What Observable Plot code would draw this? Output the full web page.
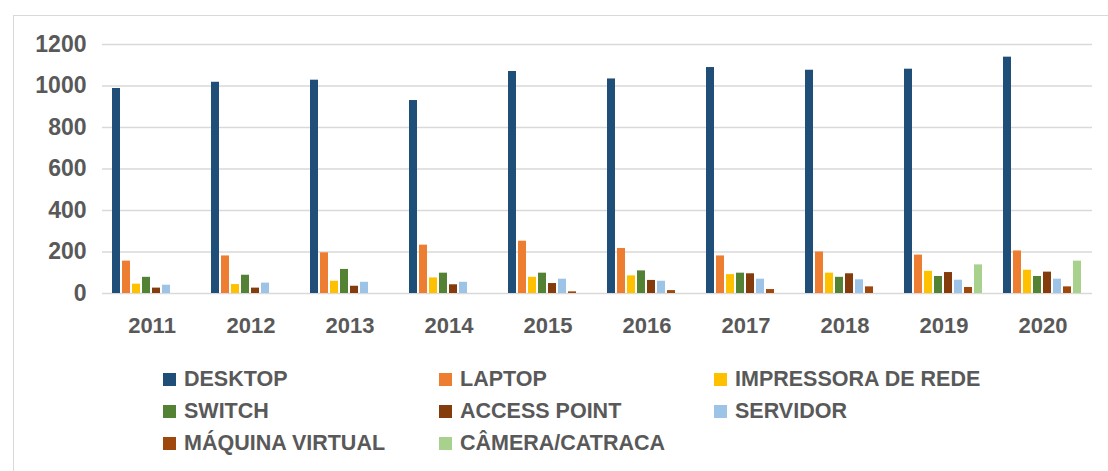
<!DOCTYPE html>
<html>
<head>
<meta charset="utf-8">
<script src="https://cdn.jsdelivr.net/npm/d3@7"></script>
<script src="https://cdn.jsdelivr.net/npm/@observablehq/plot@0.6"></script>
<style>
  body { margin: 0; background: #fff; }
  #wrap { position: relative; width: 1108px; height: 471px; overflow: hidden; font-family: "Liberation Sans", Arial, sans-serif; }
  #frame { position: absolute; left: 13px; top: 15px; right: -2px; bottom: -2px; border-left: 1px solid #d9d9d9; border-top: 1px solid #d9d9d9; }
  #chart { position: absolute; left: 0; top: 0; }
  .item { position: absolute; display: flex; align-items: center; font-weight: bold; font-size: 21.5px; color: #595959; white-space: nowrap; }
  .sw { width: 13px; height: 13px; margin-right: 8px; }
</style>
</head>
<body>
<div id="wrap">
  <div id="frame"></div>
  <div id="chart"></div>
  <div id="legend"></div>
</div>
<script>
const years = ["2011","2012","2013","2014","2015","2016","2017","2018","2019","2020"];
const series = ["DESKTOP","LAPTOP","IMPRESSORA DE REDE","SWITCH","ACCESS POINT","SERVIDOR","MÁQUINA VIRTUAL","CÂMERA/CATRACA"];
const colors = ["#1f4e79","#ed7d31","#ffc000","#548235","#843c0c","#9dc3e6","#9e480e","#a9d18e"];
const desktop     = [988, 1018, 1028, 930, 1070, 1034, 1089, 1076, 1081, 1139];
const laptop      = [156, 181, 196, 233, 252, 217, 181, 200, 185, 205];
const impressora  = [45, 43, 59, 75, 78, 85, 91, 98, 107, 112];
const switchVals  = [78, 88, 116, 98, 98, 109, 98, 78, 82, 82];
const accessPoint = [26, 26, 35, 42, 48, 63, 95, 95, 101, 103];
const servidor    = [40, 50, 54, 54, 69, 59, 69, 66, 64, 69];
const maquina     = [null, null, null, null, 8, 14, 19, 32, 29, 32];
const camera      = [null, null, null, null, null, null, null, null, 138, 156];
const yTicks = [0, 200, 400, 600, 800, 1000, 1200];

const valuesBySeries = [desktop, laptop, impressora, switchVals, accessPoint, servidor, maquina, camera];
const data = [];
years.forEach((yr, i) => {
  series.forEach((s, j) => {
    const v = valuesBySeries[j][i];
    if (v != null) data.push({year: yr, series: s, value: v});
  });
});

const font = '"Liberation Sans", Arial, sans-serif';
const chart = Plot.plot({
  width: 1108,
  height: 350,
  marginLeft: 100,
  marginRight: 15,
  marginTop: 44,
  marginBottom: 57,
  style: {fontFamily: font, fontWeight: "bold", color: "#595959", background: "transparent", overflow: "visible"},
  fx: {domain: years, padding: 0, label: null},
  x: {domain: series, paddingInner: 0.17, paddingOuter: 0.98, axis: null},
  y: {domain: [0, 1200], axis: null},
  color: {domain: series, range: colors},
  marks: [
    Plot.ruleY(yTicks, {stroke: "#d9d9d9", strokeWidth: 1.3}),
    Plot.barY(data, {fx: "year", x: "series", y: "value", fill: "series"}),
    Plot.axisY(yTicks, {tickSize: 0, tickPadding: 16, fontSize: 23, fontWeight: "bold", fill: "#595959", label: null, tickFormat: d => String(d)}),
    Plot.axisFx({anchor: "bottom", tickSize: 0, tickPadding: 24, fontSize: 22, fontWeight: "bold", fill: "#595959", label: null})
  ]
});
document.getElementById("chart").appendChild(chart);

const legend = document.getElementById("legend");
const colX = [163, 439, 714];
const rowY = [379, 411, 443];
series.forEach((s, i) => {
  const d = document.createElement("div");
  d.className = "item";
  d.style.left = colX[i % 3] + "px";
  d.style.top = (rowY[Math.floor(i / 3)] - 13) + "px";
  d.style.height = "26px";
  const sw = document.createElement("span");
  sw.className = "sw";
  sw.style.background = colors[i];
  const t = document.createElement("span");
  t.textContent = s;
  d.appendChild(sw);
  d.appendChild(t);
  legend.appendChild(d);
});
</script>
</body>
</html>
